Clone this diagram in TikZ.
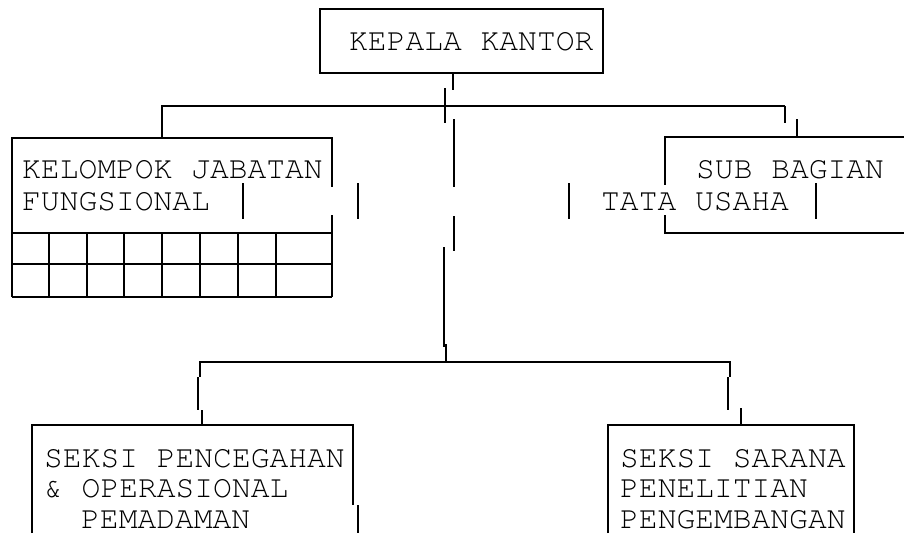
\documentclass[tikz,border=0pt]{standalone}
\usepackage{fontspec}
\newfontfamily\cour{texgyrecursor-regular.otf}
\begin{document}
\begin{tikzpicture}[x=1pt,y=-1pt,
  ln/.style={line width=1.8pt, line cap=butt},
  txt/.style={anchor=base west, inner sep=0pt, font=\cour\fontsize{31.3}{31.3}\selectfont}]
\useasboundingbox[fill=white] (0,0) rectangle (904,533);
% top box
\draw[ln] (320,9) rectangle (603,73);
\node[txt] (kk) at (349,50) {KEPALA KANTOR};
\draw[ln] (453,73) -- (453,90);
\draw[ln] (445,88) -- (445,123);
\draw[ln] (161,106) -- (785,106);
% left branch
\draw[ln] (162,106) -- (162,138);
\draw[ln] (12,297) -- (12,138) -- (332,138) -- (332,187);
\draw[ln] (332,215) -- (332,297);
\foreach \y in {233,264,297} \draw[ln] (12,\y) -- (332,\y);
\foreach \x in {49,87,124,162,200,238,276} \draw[ln] (\x,233) -- (\x,297);
\node[txt] (kj) at (22,178) {KELOMPOK JABATAN};
\node[txt] (fu) at (22,210) {FUNGSIONAL};
\draw[ln] (243,183) -- (243,219);
\draw[ln] (358,183) -- (358,219);
% right branch
\draw[ln] (785,106) -- (785,123);
\draw[ln] (797,119) -- (797,137);
\draw[ln] (904,137) -- (665,137) -- (665,185);
\draw[ln] (665,215) -- (665,233) -- (904,233);
\node[txt] (sb) at (696,178) {SUB BAGIAN};
\node[txt] (tu) at (601,210) {TATA USAHA};
\draw[ln] (569,183) -- (569,219);
\draw[ln] (816,183) -- (816,219);
% centre trunk
\draw[ln] (454,119) -- (454,187);
\draw[ln] (454,216) -- (454,251);
\draw[ln] (444,247) -- (444,347);
\draw[ln] (446,344) -- (446,362);
\draw[ln] (199,362) -- (731,362);
% lower left
\draw[ln] (200,362) -- (200,377);
\draw[ln] (198,377) -- (198,410);
\draw[ln] (202,410) -- (202,425);
\draw[ln] (32,533) -- (32,425) -- (353,425) -- (353,505);
\draw[ln] (358,505) -- (358,533);
\node[txt] (sp) at (44,467) {SEKSI PENCEGAHAN};
\node[txt] (op) at (44,497) {\& OPERASIONAL};
\node[txt] (pm) at (81,528) {PEMADAMAN};
% lower right
\draw[ln] (730,362) -- (730,377);
\draw[ln] (728,377) -- (728,410);
\draw[ln] (741,408) -- (741,425);
\draw[ln] (608,533) -- (608,425) -- (854,425) -- (854,533);
\node[txt] (ss) at (620,467) {SEKSI SARANA};
\node[txt] (pe) at (620,497) {PENELITIAN};
\node[txt] (pg) at (620,528) {PENGEMBANGAN};
\end{tikzpicture}
\end{document}
